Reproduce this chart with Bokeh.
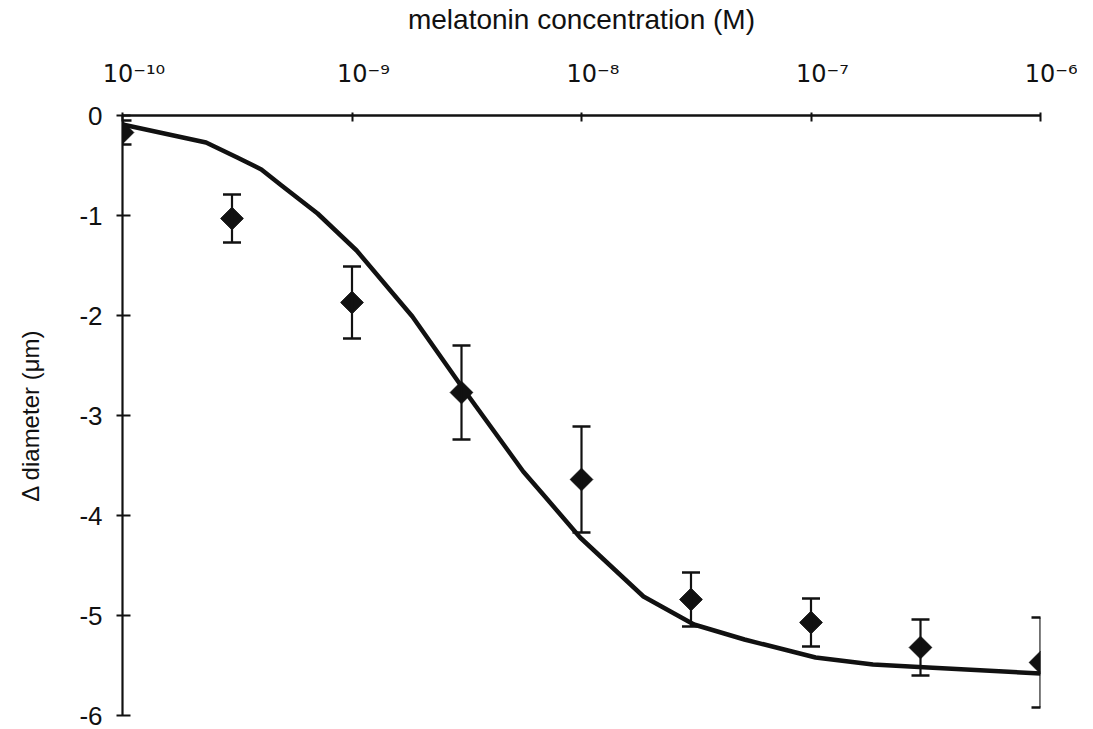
import numpy as np
from bokeh.plotting import figure
from bokeh.models import FixedTicker, Whisker, TeeHead, ColumnDataSource
from bokeh.embed import file_html
from bokeh.resources import INLINE

# ---- data ----
conc = [1e-10, 3e-10, 1e-9, 3e-9, 1e-8, 3e-8, 1e-7, 3e-7, 1e-6]
delta_diam = [-0.17, -1.03, -1.87, -2.77, -3.64, -4.84, -5.07, -5.32, -5.47]
err = [0.12, 0.24, 0.36, 0.47, 0.53, 0.27, 0.24, 0.28, 0.45]

curve_log_conc = [-10.0, -9.636, -9.5, -9.395, -9.307, -9.15, -8.98, -8.737,
                  -8.51, -8.254, -8.167, -8.006, -7.73, -7.51, -7.29, -6.98,
                  -6.73, -6.49, -6.0]
curve_diam = [-0.09, -0.27, -0.42, -0.54, -0.70, -0.98, -1.35, -2.01,
              -2.75, -3.56, -3.79, -4.22, -4.81, -5.09, -5.24, -5.42,
              -5.49, -5.52, -5.58]

x_ticks = [1e-10, 1e-9, 1e-8, 1e-7, 1e-6]
x_tick_labels = ["10\u207b\u00b9\u2070", "10\u207b\u2079", "10\u207b\u2078",
                 "10\u207b\u2077", "10\u207b\u2076"]
y_ticks = [0, -1, -2, -3, -4, -5, -6]

FONT = "Liberation Sans"
INK = "#111111"

p = figure(
    x_axis_type="log", x_axis_location="above",
    x_range=(1e-10, 1e-6), y_range=(-6, 0),
    frame_width=918, frame_height=600,
    min_border_left=122, min_border_right=37,
    min_border_top=114, min_border_bottom=15,
    output_backend="svg", toolbar_location=None,
    background_fill_color="white", border_fill_color="white",
)
p.outline_line_color = None
p.grid.grid_line_color = None

# top x axis
NB = "\u00a0" * 3
xa = p.xaxis[0]
xa.ticker = FixedTicker(ticks=x_ticks)
xa.major_label_overrides = {t: NB + s for t, s in zip(x_ticks, x_tick_labels)}
xa.major_label_text_font = "DejaVu Sans"
xa.major_label_text_font_size = "24px"
xa.major_label_text_color = INK
xa.major_label_standoff = 25
xa.minor_tick_line_color = None
xa.axis_line_width = 2.5
xa.axis_line_color = INK
xa.major_tick_line_color = INK
xa.major_tick_line_width = 2
xa.major_tick_in = 6
xa.major_tick_out = 3
xa.axis_label = "melatonin concentration (M)"
xa.axis_label_text_font = FONT
xa.axis_label_text_font_style = "normal"
xa.axis_label_text_font_size = "28px"
xa.axis_label_text_color = INK
xa.axis_label_standoff = 22

# left y axis
ya = p.yaxis[0]
ya.ticker = FixedTicker(ticks=y_ticks)
ya.major_label_overrides = {t: str(t) for t in y_ticks}
ya.minor_tick_line_color = None
ya.axis_line_width = 2.2
ya.axis_line_color = INK
ya.major_tick_line_color = INK
ya.major_tick_line_width = 2
ya.major_tick_in = 8
ya.major_tick_out = 6
ya.major_label_text_font = FONT
ya.major_label_text_font_size = "26px"
ya.major_label_text_color = INK
ya.major_label_standoff = 14
ya.axis_label = "\u0394 diameter (\u03bcm)"
ya.axis_label_text_font = FONT
ya.axis_label_text_font_style = "normal"
ya.axis_label_text_font_size = "24px"
ya.axis_label_text_color = INK
ya.axis_label_standoff = 32

# fitted curve
p.line(x=[10 ** v for v in curve_log_conc], y=curve_diam,
       line_color=INK, line_width=4.5, line_join="round")

# error bars
src = ColumnDataSource(dict(
    x=conc, y=delta_diam,
    upper=[v + e for v, e in zip(delta_diam, err)],
    lower=[v - e for v, e in zip(delta_diam, err)],
))
wh = Whisker(base="x", upper="upper", lower="lower", source=src,
             line_color=INK, line_width=2.2, level="glyph",
             upper_head=TeeHead(size=18, line_width=2.5, line_color=INK),
             lower_head=TeeHead(size=18, line_width=2.5, line_color=INK))
p.add_layout(wh)

# diamond markers
p.scatter(x="x", y="y", source=src, marker="square", angle=np.pi / 4,
          size=16, fill_color=INK, line_color=INK)

open("out.html", "w").write(file_html(p, INLINE))
